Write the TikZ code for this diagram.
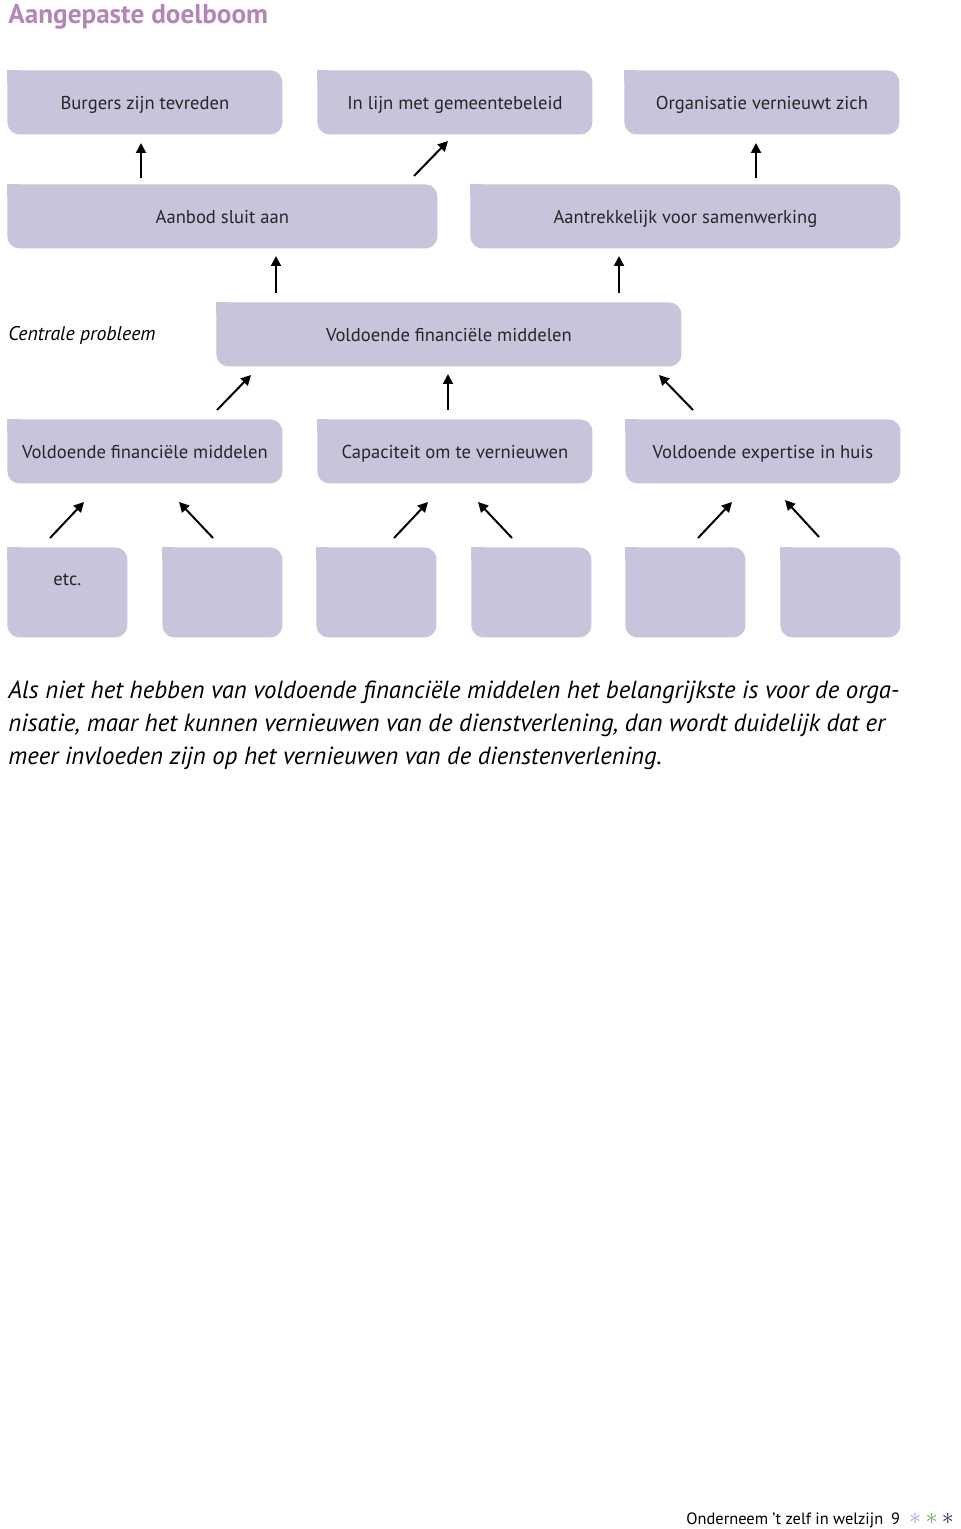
\documentclass[tikz,border=0pt]{standalone}
\usepackage{fontspec}
\setmainfont{PT Sans}
\usepackage{tikz}
\usetikzlibrary{arrows.meta,positioning,calc}
\definecolor{boxlilac}{RGB}{201,195,220}
\definecolor{titlemauve}{RGB}{178,134,181}
\definecolor{starlilac}{RGB}{190,155,205}
\definecolor{stargreen}{RGB}{100,175,70}
\definecolor{starpurple}{RGB}{52,32,100}

\begin{document}
\begin{tikzpicture}[x=.5pt,y=-.5pt,
 font=\fontsize{9.3}{11}\selectfont,
 box/.style={fill=boxlilac,rounded corners=6pt,anchor=north west,align=center,inner sep=0pt,
  text=black!85,minimum width=#1,minimum height=32pt,text height=.85em,text depth=.12em},
 box/.default=137.5pt,
 leaf/.style={box=60pt,text height=19pt,text depth=26pt},
 arr/.style={-{Triangle[length=5pt,width=5pt]},line width=1pt}]
\useasboundingbox[fill=white] (0,0) rectangle (960,1529);
\node[anchor=base west,inner sep=0pt,text=titlemauve,font=\fontsize{13.6}{15}\selectfont\bfseries] (title) at (8,24) {Aangepaste doelboom};
\node[box] (burgers) at (7,70) {Burgers zijn tevreden};
\node[box] (beleid) at (317,70) {In lijn met gemeentebeleid};
\node[box] (organisatie) at (624,70) {Organisatie vernieuwt zich};
\node[box=215pt] (aanbod) at (7,184) {Aanbod sluit aan};
\node[box=215pt] (samenwerking) at (470,184) {Aantrekkelijk voor samenwerking};
\node[anchor=base west,inner sep=0pt,font=\fontsize{9.9}{11}\selectfont\itshape] (centraal) at (8,341) {Centrale probleem};
\node[box=232.5pt] (middelen) at (216,302) {Voldoende financiële middelen};
\node[box] (financien) at (7,419) {Voldoende financiële middelen};
\node[box] (capaciteit) at (317,419) {Capaciteit om te vernieuwen};
\node[box] (expertise) at (625,419) {Voldoende expertise in huis};
\foreach \x/\n/\t in {7/1/etc.,162/2/{},316/3/{},471/4/{},625/5/{},780/6/{}}
 \node[leaf] (oorzaak\n) at (\x,547) {\t};
\foreach \n in {burgers,beleid,organisatie,aanbod,samenwerking,middelen,financien,capaciteit,
 expertise,oorzaak1,oorzaak2,oorzaak3,oorzaak4,oorzaak5,oorzaak6}
 \fill[boxlilac] (\n.north west) rectangle ++(6pt,-6pt);
\foreach \i/\x/\y/\u/\v in {1/141/178/141/143,2/414/176/448/141,3/756/178/756/143,
 4/276/293/276/256,5/619/293/619/256,6/217/410/251/375,7/448/410/448/374,8/693/410/659/375,
 9/50/538/84/502,10/213/538/179/502,11/394/538/428/502,12/512/538/478/502,
 13/698/538/732/502,14/819/537/785/500} {
 \coordinate (s\i) at (\x,\y);
 \coordinate (e\i) at (\u,\v);
 \draw[arr] (s\i) -- (e\i);}
\node[anchor=north west,align=left,inner sep=0pt,font=\fontsize{12.4}{16.5}\selectfont\itshape] (toelichting) at (8,680)
 {Als niet het hebben van voldoende financiële middelen het belangrijkste is voor de orga-\\
 nisatie, maar het kunnen vernieuwen van de dienstverlening, dan wordt duidelijk dat er\\
 meer invloeden zijn op het vernieuwen van de dienstenverlening.};
\node[anchor=base west,inner sep=0pt,font=\fontsize{8.2}{9}\selectfont] (voet) at (686,1524)
 {Onderneem ’t zelf in welzijn\hspace{4pt}9\hspace{4.5pt}{\fontsize{13}{13}\selectfont
 \textcolor{starlilac}{$\ast$}\hspace{2.2pt}\textcolor{stargreen}{$\ast$}\hspace{2.2pt}\textcolor{starpurple}{$\ast$}}};
\end{tikzpicture}
\end{document}
